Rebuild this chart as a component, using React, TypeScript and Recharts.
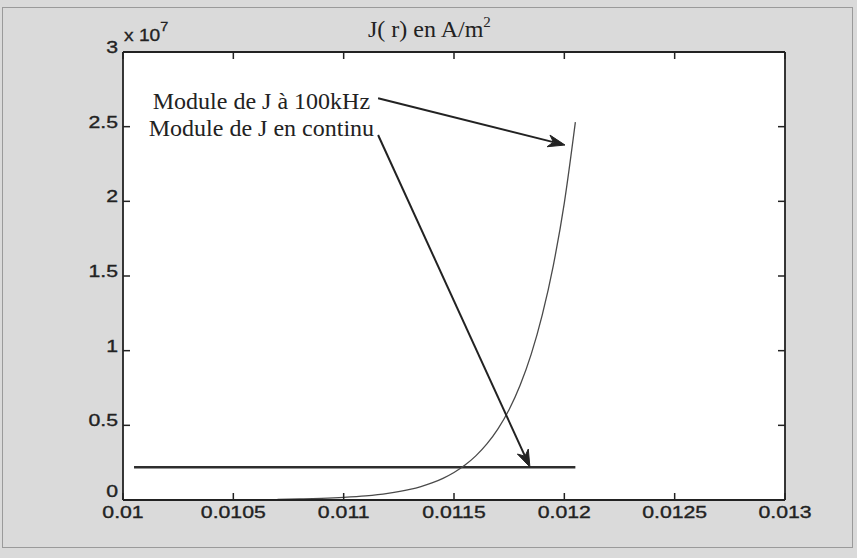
import React from 'react'
import { LineChart, Line, XAxis, YAxis, CartesianGrid, ReferenceLine } from 'recharts'

const INK = '#222222'
const PAPER = '#dadada'

const xTicks = [0.01, 0.0105, 0.011, 0.0115, 0.012, 0.0125, 0.013]
const xTickLabels = ['0.01', '0.0105', '0.011', '0.0115', '0.012', '0.0125', '0.013']
const yTicks = [0, 5e6, 1e7, 1.5e7, 2e7, 2.5e7, 3e7]
const yTickLabels = ['0', '0.5', '1', '1.5', '2', '2.5', '3']

// |J| at 100 kHz (r in m, J in A/m2)
const radiusAc = [
  0.0107, 0.0108, 0.0109, 0.011, 0.0111, 0.0112, 0.0113, 0.01135, 0.0114, 0.01145, 0.0115,
  0.01155, 0.0116, 0.01165, 0.0117, 0.01175, 0.0118, 0.01185, 0.0119, 0.01195, 0.012, 0.01205,
]
const jAc = [
  4.1e4, 6.6e4, 1.06e5, 1.7e5, 2.7e5, 4.4e5, 7.1e5, 9.0e5, 1.14e6, 1.45e6, 1.84e6,
  2.34e6, 2.97e6, 3.77e6, 4.78e6, 6.06e6, 7.7e6, 9.77e6, 1.24e7, 1.57e7, 1.99e7, 2.53e7,
]

// |J| in DC
const radiusDc = [0.01005, 0.01205]
const jDc = [2.19e6, 2.19e6]

const acData = radiusAc.map((r, i) => ({ r, j: jAc[i] }))
const dcData = radiusDc.map((r, i) => ({ r, j: jDc[i] }))

const annotations = [
  { text: 'Module de J à 100kHz', from: { x: 0.011156, y: 2.69e7 }, to: { x: 0.012003, y: 2.377e7 }, dx: -8, dy: 11 },
  { text: 'Module de J en continu', from: { x: 0.011156, y: 2.444e7 }, to: { x: 0.011844, y: 2.21e6 }, dx: -4, dy: 1 },
]

const sans = '"Liberation Sans", Arial, sans-serif'
const serif = '"Liberation Serif", "Times New Roman", serif'

function labelFor(ticks: number[], labels: string[], v: number) {
  const i = ticks.findIndex((t) => Math.abs(t - v) < Math.abs(ticks[1] - ticks[0]) / 100)
  return i >= 0 ? labels[i] : ''
}

// scanned labels look wider than plain Helvetica, so stretch them a bit
function TickText({ x, y, anchor, children }: any) {
  return (
    <text
      transform={`translate(${x},${y}) scale(1.25,1)`}
      textAnchor={anchor}
      fontFamily={sans}
      fontSize={17}
      fill={INK}
      stroke={INK}
      strokeWidth={0.35}
    >
      {children}
    </text>
  )
}

function BottomTick({ x, y, payload }: any) {
  return (
    <g>
      <line x1={x} y1={y} x2={x} y2={y - 7} stroke={INK} strokeWidth={1.5} />
      <TickText x={x} y={y + 18} anchor="middle">
        {labelFor(xTicks, xTickLabels, payload.value)}
      </TickText>
    </g>
  )
}

function TopTick({ x, y }: any) {
  return <line x1={x} y1={y} x2={x} y2={y + 7} stroke={INK} strokeWidth={1.5} />
}

function LeftTick({ x, y, payload }: any) {
  // the 0 label sits a little higher, clear of the 0.01 below it
  const dy = payload.value === 0 ? -3 : 1
  return (
    <g>
      <line x1={x} y1={y} x2={x + 7} y2={y} stroke={INK} strokeWidth={1.5} />
      <TickText x={x - 5} y={y + dy} anchor="end">
        {labelFor(yTicks, yTickLabels, payload.value)}
      </TickText>
    </g>
  )
}

function RightTick({ x, y }: any) {
  return <line x1={x} y1={y} x2={x - 7} y2={y} stroke={INK} strokeWidth={1.5} />
}

function arrowShape(text: string, dx: number, dy: number) {
  return (props: any) => {
    const { x1, y1, x2, y2 } = props
    const ang = Math.atan2(y2 - y1, x2 - x1)
    const len = 17
    const half = 6
    const bx = x2 - len * Math.cos(ang)
    const by = y2 - len * Math.sin(ang)
    const nx = -Math.sin(ang)
    const ny = Math.cos(ang)
    const nbx = x2 - len * 0.7 * Math.cos(ang)
    const nby = y2 - len * 0.7 * Math.sin(ang)
    const head = `M${x2},${y2} L${bx + nx * half},${by + ny * half} L${nbx},${nby} L${bx - nx * half},${by - ny * half} Z`
    return (
      <g>
        <line x1={x1} y1={y1} x2={nbx} y2={nby} stroke={INK} strokeWidth={2} />
        <path d={head} fill={INK} stroke={INK} strokeWidth={1} />
        <text x={x1 + dx} y={y1 + dy} textAnchor="end" fontFamily={serif} fontSize={24} fill={INK}>
          {text}
        </text>
      </g>
    )
  }
}

export default function App() {
  return (
    <div style={{ position: 'absolute', left: 0, top: 0, width: 857, height: 558, background: PAPER }}>
      <LineChart width={857} height={558} data={acData} margin={{ top: 22, right: 12, bottom: 28, left: 63 }}>
        <CartesianGrid horizontal={false} vertical={false} fill="#ffffff" xAxisId="b" yAxisId="l" />
        <XAxis
          xAxisId="b"
          dataKey="r"
          type="number"
          domain={[0.01, 0.013]}
          ticks={xTicks}
          interval={0}
          allowDataOverflow
          tickSize={0}
          tickMargin={0}
          tickLine={false}
          axisLine={{ stroke: INK, strokeWidth: 1.8 }}
          tick={<BottomTick />}
          height={30}
        />
        <XAxis
          xAxisId="t"
          orientation="top"
          dataKey="r"
          type="number"
          domain={[0.01, 0.013]}
          ticks={xTicks}
          interval={0}
          allowDataOverflow
          tickSize={0}
          tickMargin={0}
          tickLine={false}
          axisLine={{ stroke: INK, strokeWidth: 1.8 }}
          tick={<TopTick />}
          height={30}
        />
        <YAxis
          yAxisId="l"
          type="number"
          domain={[0, 3e7]}
          ticks={yTicks}
          interval={0}
          allowDataOverflow
          tickSize={0}
          tickMargin={0}
          tickLine={false}
          axisLine={{ stroke: INK, strokeWidth: 1.8 }}
          tick={<LeftTick />}
          width={60}
        />
        <YAxis
          yAxisId="r"
          orientation="right"
          type="number"
          domain={[0, 3e7]}
          ticks={yTicks}
          interval={0}
          allowDataOverflow
          tickSize={0}
          tickMargin={0}
          tickLine={false}
          axisLine={{ stroke: INK, strokeWidth: 1.8 }}
          tick={<RightTick />}
          width={60}
        />
        <Line
          xAxisId="b"
          yAxisId="l"
          data={dcData}
          dataKey="j"
          type="linear"
          stroke="#2e2e2e"
          strokeWidth={2.6}
          dot={false}
          isAnimationActive={false}
        />
        <Line
          xAxisId="b"
          yAxisId="l"
          data={acData}
          dataKey="j"
          type="monotone"
          stroke="#4a4a4a"
          strokeWidth={1.3}
          dot={false}
          isAnimationActive={false}
        />
        {annotations.map((a, i) => (
          <ReferenceLine
            key={i}
            xAxisId="b"
            yAxisId="l"
            segment={[a.from, a.to]}
            ifOverflow="visible"
            shape={arrowShape(a.text, a.dx, a.dy)}
          />
        ))}
      </LineChart>
      <svg width={857} height={558} style={{ position: 'absolute', left: 0, top: 0, pointerEvents: 'none' }}>
        <rect x={2.5} y={7.5} width={850} height={540} fill="none" stroke="#9a9a9a" strokeWidth={1} />
        <text x={368} y={37} fontFamily={serif} fontSize={24} fill={INK}>
          J( r) en A/m<tspan dy={-10} fontSize={15}>2</tspan>
        </text>
        <text transform="translate(124,41) scale(1.2,1)" fontFamily={sans} fontSize={16} fill={INK} stroke={INK} strokeWidth={0.3}>
          x 10<tspan dy={-10} fontSize={12}>7</tspan>
        </text>
      </svg>
    </div>
  )
}
